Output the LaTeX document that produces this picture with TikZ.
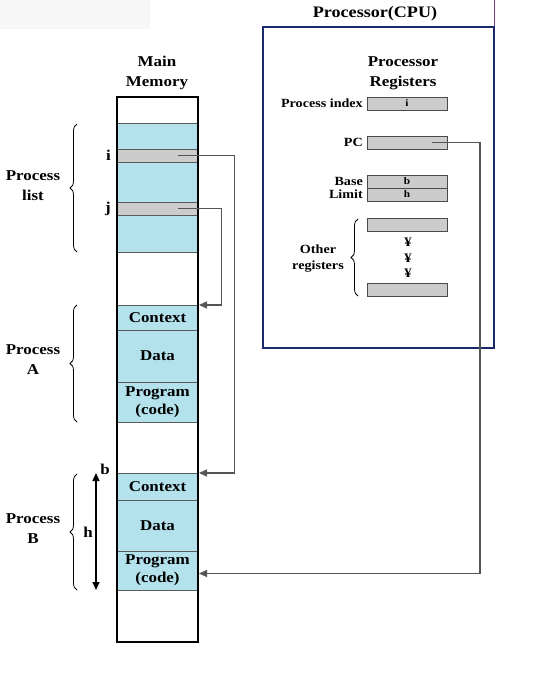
\documentclass[tikz,border=0pt]{standalone}
\usepackage{fontspec}
\setmainfont{Liberation Serif}[FakeStretch=1.13]
\usetikzlibrary{arrows.meta,decorations.pathreplacing}
\definecolor{memblue}{HTML}{B3E1EC}
\definecolor{sepgray}{HTML}{5A5A5A}
\definecolor{regfill}{HTML}{CCCCCC}
\definecolor{regline}{HTML}{4A4A4A}
\definecolor{navy}{HTML}{1A2A6C}
\definecolor{conngray}{HTML}{555555}
\definecolor{purp}{HTML}{7A3A8A}
\begin{document}
\begin{tikzpicture}[x=1pt,y=-1pt,
  lbl/.style={font=\bfseries\fontsize{15}{20}\selectfont, align=center, inner sep=0pt},
  smlbl/.style={font=\bfseries\fontsize{12.5}{16}\selectfont, align=center, inner sep=0pt},
  cell/.style={draw=sepgray, line width=0.9pt, minimum width=81pt, inner sep=0pt, outer sep=0pt,
    anchor=north west, font=\bfseries\fontsize{15}{18}\selectfont, align=center},
  bluecell/.style={cell, fill=memblue},
  graycell/.style={cell, fill=regfill},
  whitecell/.style={cell, fill=white},
  memframe/.style={draw=black, line width=2.4pt, minimum width=81pt, minimum height=545pt,
    inner sep=0pt, outer sep=0pt, anchor=north west},
  reg/.style={draw=regline, fill=regfill, line width=0.9pt, minimum width=80pt, minimum height=13pt,
    inner sep=0pt, outer sep=0pt, anchor=north west, font=\bfseries\fontsize{10}{10}\selectfont},
  dots/.style={font=\bfseries\fontsize{13}{13}\selectfont, inner sep=0pt},
  conn/.style={draw=conngray, line width=1.3pt, -{Triangle[length=8pt,width=7pt]}},
  brc/.style={decorate, decoration={brace, amplitude=7pt}, line width=0.8pt},
]
\useasboundingbox (0,0) rectangle (545,678);
% faint top-left patch and purple line
\fill[gray!6] (0,0) rectangle (150,29);
\draw[purp, line width=0.8pt] (494,0) -- (494,27);

% ---------------- Main memory ----------------
\node[lbl] (mmtitle) at (157,73) {Main\\Memory};
\node[whitecell, minimum height=26pt] (w1) at (117,97) {};
\node[bluecell, minimum height=26pt] (b1) at (117,123) {};
\node[graycell, minimum height=13pt] (gi) at (117,149) {};
\node[bluecell, minimum height=40pt] (b2) at (117,162) {};
\node[graycell, minimum height=13pt] (gj) at (117,202) {};
\node[bluecell, minimum height=37pt] (b3) at (117,215) {};
\node[whitecell, minimum height=53pt] (w2) at (117,252) {};
\node[bluecell, minimum height=25pt] (ctxA) at (117,305) {Context};
\node[bluecell, minimum height=52pt] (dataA) at (117,330) {Data};
\node[bluecell, minimum height=40pt] (progA) at (117,382) {Program\\(code)};
\node[whitecell, minimum height=51pt] (w3) at (117,422) {};
\node[bluecell, minimum height=27pt] (ctxB) at (117,473) {Context};
\node[bluecell, minimum height=51pt] (dataB) at (117,500) {Data};
\node[bluecell, minimum height=39pt] (progB) at (117,551) {Program\\(code)};
\node[whitecell, minimum height=52pt] (w4) at (117,590) {};
\node[memframe] (mem) at (117,97) {};

% row labels
\node[lbl, anchor=east] (li) at ([xshift=-6pt]gi.west) {i};
\node[lbl, anchor=east] (lj) at ([xshift=-6pt]gj.west) {j};

% braces and process labels
\draw[brc] (77,252) -- (77,124);
\node[lbl] (plist) at (33,186) {Process\\list};
\draw[brc] (77,422) -- (77,305);
\node[lbl] (pA) at (33,360) {Process\\A};
\draw[brc] (77,590) -- (77,474);
\node[lbl] (pB) at (33,529) {Process\\B};

% b / h dimension arrow
\coordinate (htop) at ([xshift=-21pt]ctxB.north west);
\coordinate (hbot) at ([xshift=-21pt]progB.south west);
\draw[line width=1.2pt, {Triangle[length=8pt,width=7pt]}-{Triangle[length=8pt,width=7pt]}] (htop) -- (hbot);
\node[lbl] (lb) at (105,469) {b};
\node[lbl] (lh) at (88,532) {h};

% ---------------- Processor ----------------
\node[font=\bfseries\fontsize{16}{16}\selectfont, inner sep=0pt] (cputitle) at (375,14) {Processor(CPU)};
\node[draw=navy, line width=1.3pt, minimum width=231pt, minimum height=321pt, inner sep=0pt,
  outer sep=0pt, anchor=north west] (cpu) at (263,27) {};
\node[lbl] (prtitle) at (403,73) {Processor\\Registers};

\node[reg] (pidx) at (367,97) {i};
\node[reg] (pc) at (367,136) {};
\node[reg] (base) at (367,175) {b};
\node[reg] (limit) at (367,188) {h};
\node[reg] (o1) at (367,218) {};
\node[reg] (o2) at (367,283) {};

\node[smlbl, anchor=east] (lpidx) at ([xshift=-4pt]pidx.west) {Process index};
\node[smlbl, anchor=east] (lpc) at ([xshift=-4pt]pc.west) {PC};
\node[smlbl, anchor=east] (lbase) at ([xshift=-4pt]base.west) {Base};
\node[smlbl, anchor=east] (llimit) at ([xshift=-4pt]limit.west) {Limit};

\node[dots] (d1) at (408,242) {¥};
\node[dots] (d2) at (408,258) {¥};
\node[dots] (d3) at (408,273) {¥};

\draw[brc] (358,296) -- (358,219);
\node[smlbl] (lother) at (318,259) {Other\\registers};

% ---------------- connectors ----------------
\draw[conn] ([xshift=20pt]gi.center) -- ++(57,0) |- ([xshift=1pt]ctxB.north east);
\draw[conn] ([xshift=20pt]gj.center) -- ++(44,0) |- ([xshift=1pt]ctxA.north east);
\draw[conn] ([xshift=25pt]pc.center) -- ++(48,0) |- ([xshift=1pt,yshift=-3pt]progB.east);
\end{tikzpicture}
\end{document}
